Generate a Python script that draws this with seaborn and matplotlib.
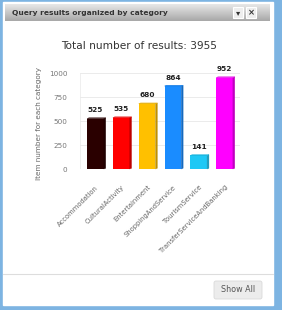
import matplotlib
matplotlib.use("Agg")
import numpy as np
import matplotlib.pyplot as plt
import matplotlib.colors as mcolors
from matplotlib.patches import Rectangle, Polygon, FancyBboxPatch
import seaborn as sns

# ==================== 数据 ====================
categories = ["Accommodation", "CulturalActivity", "Entertainment",
              "ShoppingAndService", "TourismService", "TransferServiceAndBanking"]
counts = [525, 535, 680, 864, 141, 952]
bar_colors = ["#2a0000", "#ff0000", "#ffc000", "#1a8cff", "#1ec8f5", "#ff00ff"]
y_ticks = [0, 250, 500, 750, 1000]
total_results = 3955

panel_title = "Query results organized by category"
chart_title = f"Total number of results: {total_results}"
y_label = "Item number for each category"

sns.set_theme(style="white")
plt.rcParams['font.family'] = ['DejaVu Sans']

W, H = 282, 310
fig = plt.figure(figsize=(W / 100, H / 100), dpi=100)
fig.patch.set_facecolor("#7db4e2")

# ==================== 面板背景 ====================
bg = fig.add_axes([0, 0, 1, 1])
bg.add_patch(Rectangle((3, 2), 270, 303, color="white", zorder=0))

# header gradient
grad = np.linspace(0, 1, 50).reshape(-1, 1)
hcmap = mcolors.LinearSegmentedColormap.from_list("hdr", ["#e8e8e8", "#a8a8a8"])
bg.imshow(grad, extent=(5, 270, 21, 4), cmap=hcmap, aspect="auto", zorder=1)
bg.text(12, 13, panel_title, fontsize=5.4, fontweight="bold", color="#333333",
        va="center", zorder=2)
for bx, sym in [(233, "\u25BE"), (246, "\u00D7")]:
    bg.add_patch(Rectangle((bx, 7), 10, 11, fc="#eeeeee", ec="white", lw=0.8, zorder=2))
    bg.text(bx + 5, 12.5, sym, fontsize=6, fontweight="bold", color="#333333",
            ha="center", va="center", zorder=3)

bg.text(139, 46, chart_title, fontsize=7.6, color="#333333",
        ha="center", va="center")

# footer
bg.plot([3, 273], [274, 274], color="#dddddd", lw=0.8)
bg.add_patch(FancyBboxPatch((214, 281), 48, 18, boxstyle="round,pad=0,rounding_size=2",
                            fc="#ececec", ec="#d9d9d9", lw=0.6))
bg.text(238, 290, "Show All", fontsize=5.8, color="#555555", ha="center", va="center")

bg.set_xlim(0, W)
bg.set_ylim(H, 0)
bg.axis("off")

# ==================== 柱状图 ====================
ax = fig.add_axes([80 / W, (H - 169) / H, 160 / W, 96 / H])
sns.barplot(x=categories, y=counts, hue=categories, palette=bar_colors,
            legend=False, ax=ax, width=0.65, saturation=1, zorder=3, linewidth=0)

# 伪3D侧面和顶面
dx, dy = 0.07, 8
for p in ax.patches:
    x0, w, h = p.get_x(), p.get_width(), p.get_height()
    c = np.array(mcolors.to_rgb(p.get_facecolor()))
    side = c * 0.75
    top = c * 0.9
    ax.add_patch(Polygon([(x0 + w, 0), (x0 + w + dx, dy), (x0 + w + dx, h + dy), (x0 + w, h)],
                         closed=True, fc=side, ec=side, lw=0.3, zorder=3, clip_on=False))
    ax.add_patch(Polygon([(x0, h), (x0 + w, h), (x0 + w + dx, h + dy), (x0 + dx, h + dy)],
                         closed=True, fc=top, ec=top, lw=0.3, zorder=3, clip_on=False))

for cont in ax.containers:
    ax.bar_label(cont, fontsize=5.3, fontweight="bold", color="#222222", padding=4)

ax.set_ylim(0, 1000)
ax.set_xlim(-0.6, len(categories) - 0.4)
ax.set_yticks(y_ticks)
ax.grid(axis="y", color="#e8e8e8", lw=0.6, zorder=0)
for xv in [ax.get_xlim()[0], ax.get_xlim()[1]]:
    ax.axvline(xv, color="#ececec", lw=0.6, zorder=0)
sns.despine(ax=ax, left=True, bottom=True)
ax.tick_params(axis="y", length=0, labelsize=5.2, labelcolor="#777777", pad=9)
ax.tick_params(axis="x", length=0, labelsize=4.9, labelcolor="#666666", pad=11)
plt.setp(ax.get_xticklabels(), rotation=45, ha="right", rotation_mode="anchor")
ax.set_xlabel("")
ax.set_ylabel(y_label, fontsize=5.2, color="#666666")
ax.yaxis.set_label_coords(-0.235, 0.47)
ax.set_facecolor("none")

fig.savefig("out.png", dpi=100)
